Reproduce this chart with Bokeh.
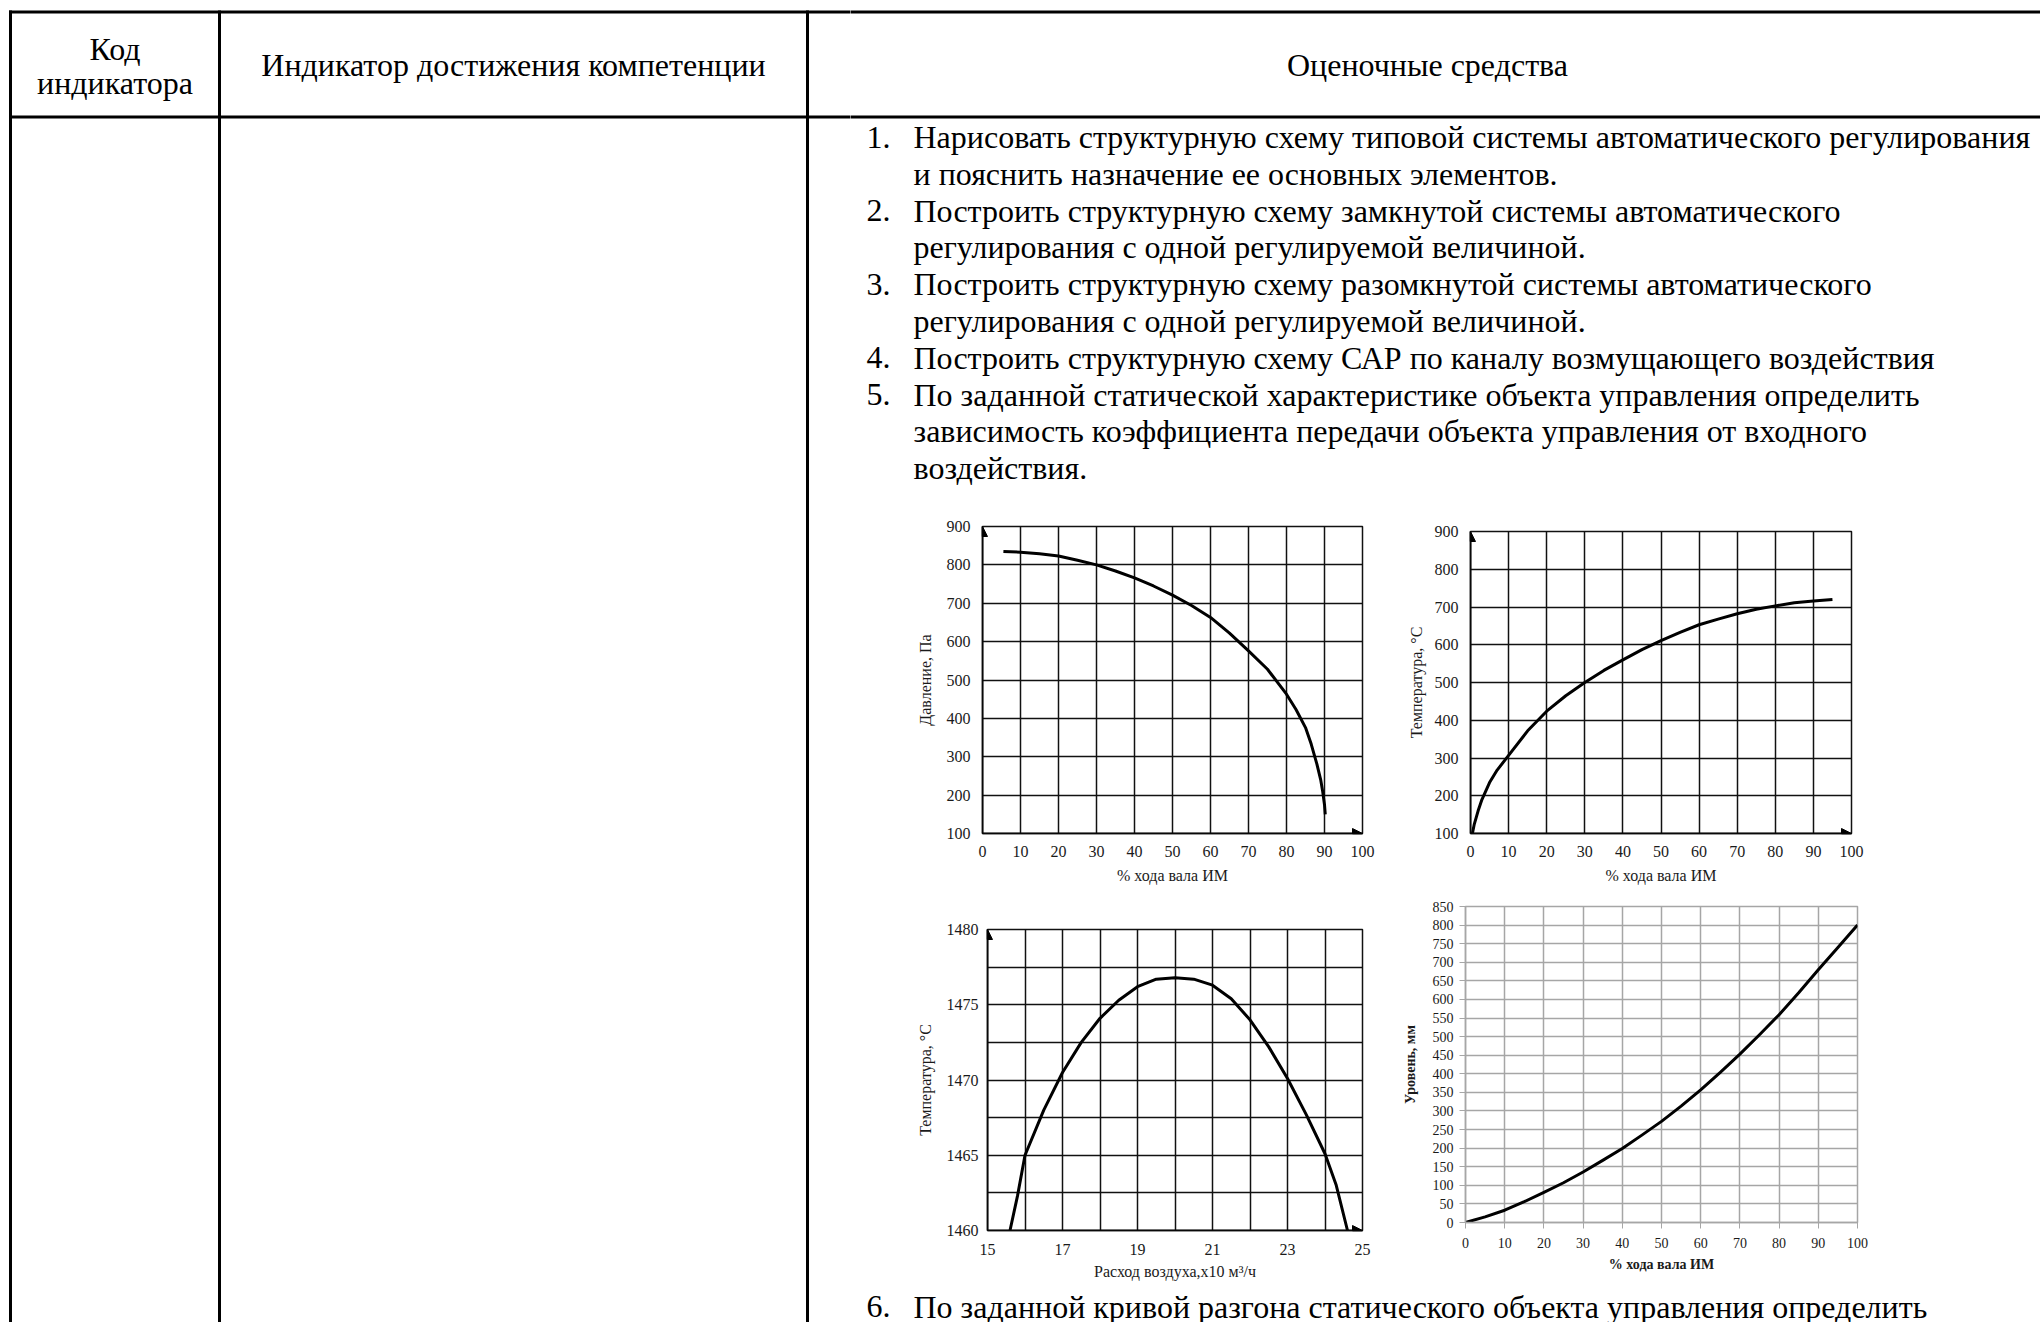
from bokeh.plotting import figure
from bokeh.layouts import row, column
from bokeh.models import Range1d, FixedTicker, Arrow, NormalHead
from bokeh.core.properties import value
from bokeh.embed import file_html
from bokeh.resources import INLINE

FONT = "Liberation Serif"

# ---------------- texts ----------------
header_col1 = ["Код", "индикатора"]
header_col2 = "Индикатор достижения компетенции"
header_col3 = "Оценочные средства"
list_numbers = ["1.", "", "2.", "", "3.", "", "4.", "5.", "", ""]
list_lines = [
    "Нарисовать структурную схему типовой системы автоматического регулирования",
    "и пояснить назначение ее основных элементов.",
    "Построить структурную схему замкнутой системы автоматического",
    "регулирования с одной регулируемой величиной.",
    "Построить структурную схему разомкнутой системы автоматического",
    "регулирования с одной регулируемой величиной.",
    "Построить структурную схему САР по каналу возмущающего воздействия",
    "По заданной статической характеристике объекта управления определить",
    "зависимость коэффициента передачи объекта управления от входного",
    "воздействия.",
]
item6_number = "6."
item6_line = "По заданной кривой разгона статического объекта управления определить"

# ---------------- chart data ----------------
# chart 1: pressure vs % stroke
c1_x = [5.5, 10, 15, 20, 25, 30, 35, 40, 45, 50, 55, 60, 65, 70, 75, 80, 82.5, 85, 86.5, 88, 89, 89.5, 90, 90.2]
c1_y = [835, 833, 829, 823, 812, 800, 784, 766, 745, 721, 694, 663, 622, 576, 528, 463, 423, 376, 333, 281, 240, 211, 175, 150]
c1_xticks = [0, 10, 20, 30, 40, 50, 60, 70, 80, 90, 100]
c1_yticks = [100, 200, 300, 400, 500, 600, 700, 800, 900]
c1_xlabel = "% хода вала ИМ"
c1_ylabel = "Давление, Па"

# chart 2: temperature vs % stroke
c2_x = [0.5, 1, 2, 3, 5, 7, 10, 15, 20, 25, 30, 35, 40, 45, 50, 55, 60, 65, 70, 75, 80, 85, 90, 95]
c2_y = [100, 125, 160, 190, 235, 268, 307, 372, 424, 465, 500, 532, 560, 587, 611, 633, 653, 668, 682, 694, 703, 711, 716, 720]
c2_xticks = [0, 10, 20, 30, 40, 50, 60, 70, 80, 90, 100]
c2_yticks = [100, 200, 300, 400, 500, 600, 700, 800, 900]
c2_xlabel = "% хода вала ИМ"
c2_ylabel = "Температура, °С"

# chart 3: temperature vs air flow
c3_x = [15.6, 15.8, 16, 16.5, 17, 17.5, 18, 18.5, 19, 19.5, 20, 20.5, 21, 21.5, 22, 22.5, 23, 23.5, 24, 24.3, 24.6]
c3_y = [1460, 1462.3, 1465, 1468, 1470.5, 1472.5, 1474.1, 1475.3, 1476.2, 1476.7, 1476.8, 1476.7, 1476.3, 1475.4,
        1474.0, 1472.2, 1470.1, 1467.7, 1465.1, 1463.0, 1460]
c3_xticks = [15, 17, 19, 21, 23, 25]
c3_xgrid = [15, 16, 17, 18, 19, 20, 21, 22, 23, 24, 25]
c3_yticks = [1460, 1465, 1470, 1475, 1480]
c3_ygrid = [1460, 1462.5, 1465, 1467.5, 1470, 1472.5, 1475, 1477.5, 1480]
c3_xlabel = "Расход воздуха,x10 м³/ч"
c3_ylabel = "Температура, °С"

# chart 4: level vs % stroke
c4_x = [0, 5, 10, 15, 20, 25, 30, 35, 40, 45, 50, 55, 60, 65, 70, 75, 80, 85, 90, 95, 100]
c4_y = [0, 15, 33, 56, 81, 107, 136, 167, 199, 235, 272, 313, 357, 404, 453, 505, 559, 618, 680, 740, 800]
c4_xticks = [0, 10, 20, 30, 40, 50, 60, 70, 80, 90, 100]
c4_yticks = [0, 50, 100, 150, 200, 250, 300, 350, 400, 450, 500, 550, 600, 650, 700, 750, 800, 850]
c4_xlabel = "% хода вала ИМ"
c4_ylabel = "Уровень, мм"

# ---------------- page layout (pixels) ----------------
PAGE_X0, PAGE_X1 = 0, 2040
PAGE_Y0, PAGE_Y1 = 0, 1322
SPLIT_X = 850
MID_X = 1385
ROW2_Y0, ROW3_Y0, ROW4_Y0 = 500, 893, 1285
BORDER_X = [10, 219, 807]
H_LINES = [(10, 13), (115, 118)]   # top border, header bottom border (pixel bands)
LW = 3


def page_fig(x0, x1, y0, y1):
    p = figure(width=x1 - x0, height=y1 - y0, x_range=Range1d(x0, x1), y_range=Range1d(y1, y0),
               output_backend="svg", toolbar_location=None, min_border=0,
               x_axis_type=None, y_axis_type=None)
    p.outline_line_color = None
    p.grid.visible = False
    p.frame_align = False
    return p


def page_text(p, xs, ys, texts, align="left", size="32px"):
    p.text(x=xs, y=ys, text=texts, text_font=value(FONT), text_font_size=size,
           text_baseline="alphabetic", text_align=align, text_color="black")


def h_bands(p, x0, x1):
    p.quad(left=[x0] * len(H_LINES), right=[x1] * len(H_LINES),
           top=[b[0] for b in H_LINES], bottom=[b[1] for b in H_LINES],
           fill_color="black", line_color=None)


# left part: columns 1 and 2
left = page_fig(PAGE_X0, SPLIT_X, PAGE_Y0, PAGE_Y1)
left.segment(x0=BORDER_X, y0=[10] * 3, x1=BORDER_X, y1=[PAGE_Y1] * 3,
             line_width=LW, line_color="black")
h_bands(left, 8.5, SPLIT_X + 5)
page_text(left, [114.5, 114.5], [48, 82], header_col1, align="center")
page_text(left, [513], [64.5], [header_col2], align="center")

# right top: column 3 header + list
rtop = page_fig(SPLIT_X, PAGE_X1, PAGE_Y0, ROW2_Y0)
h_bands(rtop, SPLIT_X - 5, PAGE_X1 + 5)
page_text(rtop, [1427], [64.5], [header_col3], align="center")
base = [136.5 + 36.8 * i for i in range(len(list_lines))]
page_text(rtop, [866] * len(list_numbers), base, list_numbers)
page_text(rtop, [913] * len(list_lines), base, list_lines)

# right bottom: item 6
rbot = page_fig(SPLIT_X, PAGE_X1, ROW4_Y0, PAGE_Y1)
page_text(rbot, [866], [1306], [item6_number])
page_text(rbot, [913], [1306], [item6_line])


def chart(w, h, bl, br, bt, bb, xr, yr, xticks, yticks, xgrid, ygrid, xlabel, ylabel,
          gridcolor="#111111", lsize="16px", tsize="16px", tstyle="normal",
          ylab_stand=12, ytit_stand=10, xlab_stand=12, xtit_stand=7, tick_out=0):
    p = figure(width=w, height=h, x_range=Range1d(*xr), y_range=Range1d(*yr),
               output_backend="svg", toolbar_location=None,
               min_border_left=bl, min_border_right=br, min_border_top=bt, min_border_bottom=bb)
    p.frame_align = False
    p.outline_line_color = gridcolor
    p.outline_line_width = 1.5
    p.xaxis.ticker = FixedTicker(ticks=xticks)
    p.yaxis.ticker = FixedTicker(ticks=yticks)
    p.xgrid.ticker = FixedTicker(ticks=xgrid)
    p.ygrid.ticker = FixedTicker(ticks=ygrid)
    for g in p.grid:
        g.grid_line_color = gridcolor
        g.grid_line_width = 1.5
        g.grid_line_alpha = 1.0
    p.xaxis.axis_label = xlabel
    p.yaxis.axis_label = ylabel
    for ax in p.axis:
        ax.major_label_text_font = FONT
        ax.major_label_text_font_size = lsize
        ax.major_label_text_color = "#1a1a1a"
        ax.axis_label_text_font = FONT
        ax.axis_label_text_font_size = tsize
        ax.axis_label_text_font_style = tstyle
        ax.axis_label_text_color = "#1a1a1a"
        ax.minor_tick_line_color = None
        ax.major_tick_in = 0
        ax.major_tick_out = tick_out
        ax.major_tick_line_color = gridcolor if tick_out else None
        ax.axis_line_color = gridcolor
        ax.axis_line_width = 1.5
    p.yaxis.major_label_standoff = ylab_stand
    p.yaxis.axis_label_standoff = ytit_stand
    p.xaxis.major_label_standoff = xlab_stand
    p.xaxis.axis_label_standoff = xtit_stand
    return p


def add_arrows(p, xr, yr):
    for xe, ye in [((xr[0], xr[0]), (yr[0], yr[1])), ((xr[0], xr[1]), (yr[0], yr[0]))]:
        p.add_layout(Arrow(end=NormalHead(size=10, fill_color="black", line_color="black"),
                           x_start=xe[0], y_start=ye[0], x_end=xe[1], y_end=ye[1],
                           line_width=1.5, line_color="black"))


c1_xr, c1_yr = (0, 100), (100, 900)
ch1 = chart(MID_X - SPLIT_X, ROW3_Y0 - ROW2_Y0, 132, 23, 26, 60, c1_xr, c1_yr,
            c1_xticks, c1_yticks, c1_xticks, c1_yticks, c1_xlabel, c1_ylabel)
ch1.line(c1_x, c1_y, line_width=3, line_color="black", line_join="round")
add_arrows(ch1, c1_xr, c1_yr)

c2_xr, c2_yr = (0, 100), (100, 900)
ch2 = chart(PAGE_X1 - MID_X, ROW3_Y0 - ROW2_Y0, 85, 189, 31, 60, c2_xr, c2_yr,
            c2_xticks, c2_yticks, c2_xticks, c2_yticks, c2_xlabel, c2_ylabel, ytit_stand=7)
ch2.line(c2_x, c2_y, line_width=3, line_color="black", line_join="round")
add_arrows(ch2, c2_xr, c2_yr)

c3_xr, c3_yr = (15, 25), (1460, 1480)
ch3 = chart(MID_X - SPLIT_X, ROW4_Y0 - ROW3_Y0, 137, 23, 36, 55, c3_xr, c3_yr,
            c3_xticks, c3_yticks, c3_xgrid, c3_ygrid, c3_xlabel, c3_ylabel,
            ylab_stand=9, xlab_stand=13, xtit_stand=5)
ch3.line(c3_x, c3_y, line_width=3, line_color="black", line_join="round")
add_arrows(ch3, c3_xr, c3_yr)

c4_xr, c4_yr = (0, 100), (0, 850)
ch4 = chart(PAGE_X1 - MID_X, ROW4_Y0 - ROW3_Y0, 80, 183, 13, 63, c4_xr, c4_yr,
            c4_xticks, c4_yticks, c4_xticks, c4_yticks, c4_xlabel, c4_ylabel,
            gridcolor="#a6a6a6", lsize="14px", tsize="14px", tstyle="bold",
            ylab_stand=6, ytit_stand=12, xlab_stand=9, xtit_stand=6, tick_out=6)
ch4.line(c4_x, c4_y, line_width=3, line_color="black", line_join="round")

right = column(rtop, row(ch1, ch2), row(ch3, ch4), rbot)
page = row(left, right)

open("out.html", "w").write(file_html(page, INLINE))
